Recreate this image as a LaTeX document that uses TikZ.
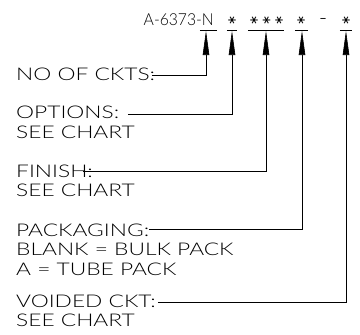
\documentclass[tikz,border=0pt]{standalone}
\usepackage{fontspec}
\setmainfont{Lato Light}[FakeStretch=1.30]
\newfontfamily\titlefont{Lato Light}[FakeStretch=0.95]
\newfontfamily\markfont{DejaVu Sans}
\usetikzlibrary{arrows.meta}
\begin{document}
\begin{tikzpicture}[x=1pt,y=-1pt,
  lbl/.style={anchor=base west, inner sep=0pt, font=\fontsize{17.5}{19.5}\selectfont},
  ttl/.style={anchor=base east, inner sep=0pt, font=\titlefont\fontsize{16.5}{18}\selectfont},
  xmark/.style={anchor=center, inner sep=0pt, rotate=90, font=\markfont\fontsize{12}{12}\selectfont},
  dmark/.style={anchor=center, inner sep=0pt, font=\markfont\fontsize{13}{13}\selectfont},
  ubar/.style={line width=0.7pt},
  conn/.style={line width=0.6pt, -{Triangle[length=24pt,width=6.5pt]}}]
\useasboundingbox (0,0) rectangle (360,335);
% title
\node[ttl] (pn) at (214,25) {A-6373-N};
\node[xmark] (x1) at (232,20) {∗};
\node[xmark] (x2) at (254,20) {∗};
\node[xmark] (x3) at (266.5,20) {∗};
\node[xmark] (x4) at (279,20) {∗};
\node[xmark] (x5) at (301,20) {∗};
\node[dmark] (dash) at (323,20) {–};
\node[xmark] (x6) at (346,20) {∗};
% underbars
\draw[ubar] (200,30.5) -- (217,30.5);
\draw[ubar] (227,30.5) -- (237,30.5);
\draw[ubar] (248,30.5) -- (284,30.5);
\draw[ubar] (295,30.5) -- (308,30.5);
\draw[ubar] (340,30.5) -- (352,30.5);
% arrow tips
\coordinate (tN) at (206,31);
\coordinate (t1) at (232,31);
\coordinate (t3) at (266,31);
\coordinate (t4) at (302,31);
\coordinate (t6) at (346,31);
% labels
\node[lbl] (lno) at (16,80.5) {NO OF CKTS:};
\node[lbl] (lopt) at (16,118) {OPTIONS:};
\node[lbl] (lopt2) at (16,138) {SEE CHART};
\node[lbl] (lfin) at (16,177) {FINISH:};
\node[lbl] (lfin2) at (16,196) {SEE CHART};
\node[lbl] (lpack) at (16,236) {PACKAGING:};
\node[lbl] (lpack2) at (16,255.5) {BLANK = BULK PACK};
\node[lbl] (lpack3) at (16,275) {A = TUBE PACK};
\node[lbl] (lvoid) at (16,307) {VOIDED CKT:};
\node[lbl] (lvoid2) at (16,326.5) {SEE CHART};
% line starts
\coordinate (sno) at (152,75);
\coordinate (sopt) at (128,114.5);
\coordinate (sfin) at (83,171.5);
\coordinate (spack) at (149,229);
\coordinate (svoid) at (158,302.7);
% connectors
\draw[conn] (sno) -| (tN);
\draw[conn] (sopt) -| (t1);
\draw[conn] (sfin) -| (t3);
\draw[conn] (spack) -| (t4);
\draw[conn] (svoid) -| (t6);
\end{tikzpicture}
\end{document}
